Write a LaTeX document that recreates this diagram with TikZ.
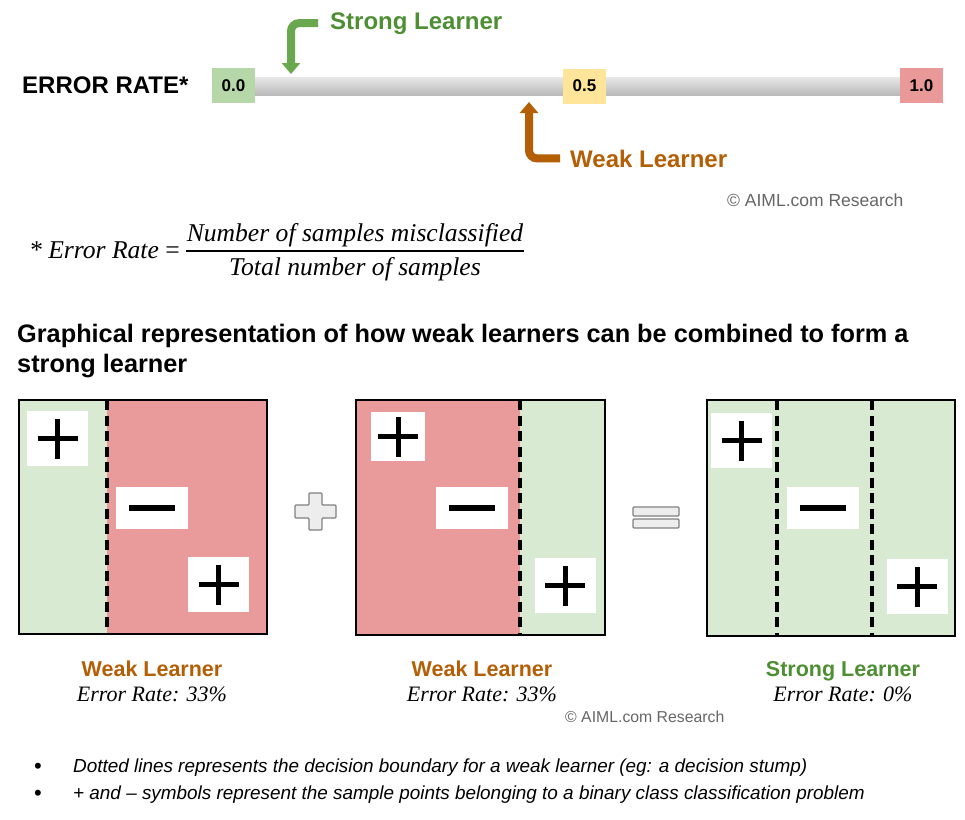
\documentclass[tikz,border=0pt]{standalone}
\usepackage{fontspec}
\setmainfont{Liberation Sans}
\newfontfamily\tnr{Liberation Serif}
\usetikzlibrary{arrows.meta,positioning}

\definecolor{lowgreen}{HTML}{B6D7A8}
\definecolor{midyellow}{HTML}{FFE599}
\definecolor{highred}{HTML}{EA9999}
\definecolor{panelgreen}{HTML}{D9EAD3}
\definecolor{panelred}{HTML}{E99A9A}
\definecolor{weakorange}{HTML}{B45F06}
\definecolor{strongarrow}{HTML}{6AA84F}
\definecolor{strongtext}{HTML}{4E8F33}

\newcommand{\fsz}[1]{\fontsize{#1}{#1}\selectfont}

\tikzset{
  every node/.style={inner sep=0pt},
  ratebox/.style={minimum width=43pt, minimum height=35pt, font=\fsz{17}\bfseries},
  pbox/.style={fill=white, minimum width=61pt, minimum height=55pt,
    path picture={\draw[line width=5pt]
      ([yshift=-20pt]path picture bounding box.center) -- ([yshift=20pt]path picture bounding box.center)
      ([xshift=-20pt]path picture bounding box.center) -- ([xshift=20pt]path picture bounding box.center);}},
  mbox/.style={fill=white, minimum width=72pt, minimum height=42pt,
    path picture={\draw[line width=6.5pt]
      ([xshift=-23pt]path picture bounding box.center) -- ([xshift=23pt]path picture bounding box.center);}},
  boundary/.style={line width=3.3pt, dash pattern=on 10pt off 5.5pt},
  panelframe/.style={line width=2pt},
  pointer/.style={line width=8pt, rounded corners=8pt, -{Triangle[width=18pt,length=11pt]}},
  learner/.style={font=\fsz{21.5}\bfseries, anchor=base},
  ratetext/.style={font=\fsz{22}\tnr\itshape, anchor=base},
  icon/.style={fill=black!7, draw=black!50, line width=1.2pt, rounded corners=1pt}
}

\begin{document}
\begin{tikzpicture}[x=1pt, y=-1pt]

    \fill[white] (0,0) rectangle (965,819);
    \useasboundingbox (0,0) rectangle (965,819);

    % Error rate scale
    \node[anchor=base west, font=\fsz{24}\bfseries] (title) at (22,93) {ERROR RATE*};
    \shade[top color=black!9, middle color=black!20, bottom color=black!27]
        (255,77) rectangle (900,95);
    \node[ratebox, fill=lowgreen] (r0) at (233.5,85.5) {0.0};
    \node[ratebox, fill=midyellow] (r5) at (584.5,86) {0.5};
    \node[ratebox, fill=highred] (r1) at (921.5,85.5) {1.0};

    % Pointers
    \node[anchor=base west, font=\fsz{24}\bfseries, text=strongtext] (strong) at (330,29) {Strong Learner};
    \coordinate (stip) at (291,74);
    \draw[pointer, strongarrow] ([xshift=-12pt]strong.west) -| (stip);

    \node[anchor=base west, font=\fsz{24}\bfseries, text=weakorange] (weak) at (570,167) {Weak Learner};
    \coordinate (wtip) at (529,102);
    \draw[pointer, weakorange] ([xshift=-10pt]weak.west) -| (wtip);

    \node[anchor=base west, font=\fsz{17.5}, text=black!60] (credit) at (727,206) {© AIML.com Research};

    % Formula
    \node[anchor=base east, font=\fsz{25.6}\tnr] (erl) at (180,258) {{\itshape * Error Rate} =};
    \node[anchor=base, font=\fsz{25.6}\tnr\itshape] (num) at (355,241) {Number of samples misclassified};
    \node[anchor=base, font=\fsz{25.6}\tnr\itshape] (den) at (355,275) {Total number of samples};
    \draw[line width=1.3pt] (186,251) -- (524,251);

    % Heading
    \node[anchor=base west, font=\fsz{25.3}\bfseries] (head1) at (17,342)
        {Graphical representation of how weak learners can be combined to form a};
    \node[anchor=base west, font=\fsz{25.3}\bfseries] (head2) at (17,372) {strong learner};

    % Panel 1
    \fill[panelgreen] (19,400) rectangle (107,634);
    \fill[panelred] (107,400) rectangle (267,634);
    \node[pbox] (a1) at (57.5,438.5) {};
    \node[mbox] (a2) at (152,508) {};
    \node[pbox] (a3) at (218.5,584.5) {};
    \draw[boundary] (107,400) -- (107,634);
    \draw[panelframe] (19,400) rectangle (267,634);

    % Plus icon
    \draw[icon] (309,493) -- (322,493) -- (322,505) -- (336,505) -- (336,518) -- (322,518)
        -- (322,530) -- (309,530) -- (309,518) -- (295,518) -- (295,505) -- (309,505) -- cycle;

    % Panel 2
    \fill[panelred] (356,400) rectangle (520,635);
    \fill[panelgreen] (520,400) rectangle (605,635);
    \node[pbox, minimum width=54pt, minimum height=49pt] (b1) at (398,436.5) {};
    \node[mbox] (b2) at (471.5,508) {};
    \node[pbox] (b3) at (565,585.5) {};
    \draw[boundary] (520,400) -- (520,635);
    \draw[panelframe] (356,400) rectangle (605,635);

    % Equals icon
    \draw[icon] (633,507) rectangle (679,516);
    \draw[icon] (633,519) rectangle (679,528);

    % Panel 3
    \fill[panelgreen] (707,400) rectangle (955,636);
    \node[pbox] (c1) at (741.5,440.5) {};
    \node[mbox] (c2) at (823,508) {};
    \node[pbox] (c3) at (917,586.5) {};
    \foreach \x in {777,872}
        \draw[boundary] (\x,400) -- (\x,636);
    \draw[panelframe] (707,400) rectangle (955,636);

    % Panel labels
    \node[learner, text=weakorange] (l1) at (152,676) {Weak Learner};
    \node[ratetext] (e1) at (152,701) {Error Rate: 33\%};
    \node[learner, text=weakorange] (l2) at (482,676) {Weak Learner};
    \node[ratetext] (e2) at (482,701) {Error Rate: 33\%};
    \node[learner, text=strongtext] (l3) at (843,676) {Strong Learner};
    \node[ratetext] (e3) at (843,701) {Error Rate: 0\%};

    \node[anchor=base west, font=\fsz{15.8}, text=black!60] (credit2) at (565,722) {© AIML.com Research};

    % Notes
    \node[anchor=base, font=\fsz{22}] (dot1) at (38,773) {•};
    \node[anchor=base west, font=\fsz{18.9}\itshape] (note1) at (73,772)
        {Dotted lines represents the decision boundary for a weak learner (eg: a decision stump)};
    \node[anchor=base, font=\fsz{22}] (dot2) at (38,800) {•};
    \node[anchor=base west, font=\fsz{18.9}\itshape] (note2) at (73,799)
        {+ and – symbols represent the sample points belonging to a binary class classification problem};

\end{tikzpicture}
\end{document}
